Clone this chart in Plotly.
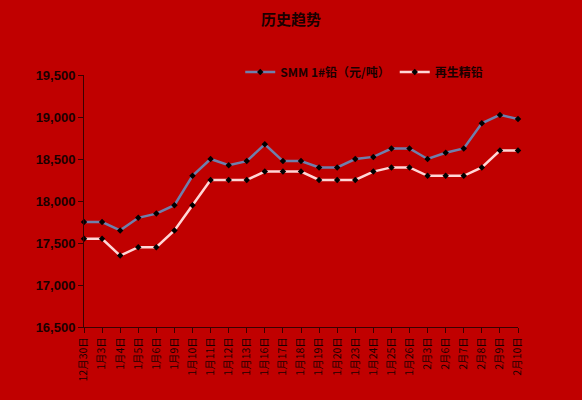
import plotly.graph_objects as go

categories = ["12月30日", "1月3日", "1月4日", "1月5日", "1月6日", "1月9日", "1月10日",
              "1月11日", "1月12日", "1月13日", "1月16日", "1月17日", "1月18日", "1月19日",
              "1月20日", "1月23日", "1月24日", "1月25日", "1月26日", "2月3日", "2月6日",
              "2月7日", "2月8日", "2月9日", "2月10日"]
smm_lead = [17750, 17750, 17650, 17800, 17850, 17950, 18300, 18500, 18425, 18475, 18675,
            18475, 18475, 18400, 18400, 18500, 18525, 18625, 18625, 18500, 18575, 18625,
            18925, 19025, 18975]
recycled_lead = [17550, 17550, 17350, 17450, 17450, 17650, 17950, 18250, 18250, 18250, 18350,
                 18350, 18350, 18250, 18250, 18250, 18350, 18400, 18400, 18300, 18300, 18300,
                 18400, 18600, 18600]
series_names = ["SMM 1#铅（元/吨）", "再生精铅"]
y_ticks = [16500, 17000, 17500, 18000, 18500, 19000, 19500]

font_cjk = "Noto Sans CJK SC"
text_color = "#1a0000"
bg = "#C00000"

fig = go.Figure()
fig.add_trace(go.Scatter(
    x=categories, y=smm_lead, name=series_names[0], mode="lines+markers",
    line=dict(color="#6f7fac", width=2.5),
    marker=dict(color="#000000", size=5, symbol="diamond"),
    cliponaxis=False,
))
fig.add_trace(go.Scatter(
    x=categories, y=recycled_lead, name=series_names[1], mode="lines+markers",
    line=dict(color="#ffd6d6", width=2.5),
    marker=dict(color="#000000", size=5, symbol="diamond"),
    cliponaxis=False,
))

fig.update_layout(
    width=582, height=400,
    paper_bgcolor=bg, plot_bgcolor=bg,
    margin=dict(l=84, r=64, t=75, b=73),
    title=dict(text="<b>历史趋势</b>", x=0.5, xanchor="center", y=0.95, yanchor="middle",
               font=dict(family=font_cjk, size=15, color=text_color)),
    legend=dict(orientation="h", x=0.36, xanchor="left", y=1.012, yanchor="middle",
                bgcolor="rgba(0,0,0,0)",
                font=dict(family=font_cjk, size=12, color=text_color, weight="bold"),
                itemwidth=30, tracegroupgap=0),
    showlegend=True,
)
fig.update_xaxes(
    type="category", range=[0, len(categories) - 1],
    showgrid=False, showline=True, linecolor="#3a0000", linewidth=1,
    ticks="outside", ticklen=5, tickcolor="#3a0000",
    tickangle=-90, tickfont=dict(family=font_cjk, size=10.5, color=text_color),
    zeroline=False,
)
fig.update_yaxes(
    range=[16500, 19500], tickvals=y_ticks, tickformat=",",
    showgrid=False, showline=True, linecolor="#3a0000", linewidth=1,
    ticks="outside", ticklen=5, tickcolor="#3a0000",
    tickfont=dict(family="Liberation Sans", size=13, color=text_color, weight="bold"),
    zeroline=False,
)

fig.write_html("out.html", config={"displayModeBar": False},
               post_script="document.body.style.margin='0';document.body.style.background='#C00000';")
